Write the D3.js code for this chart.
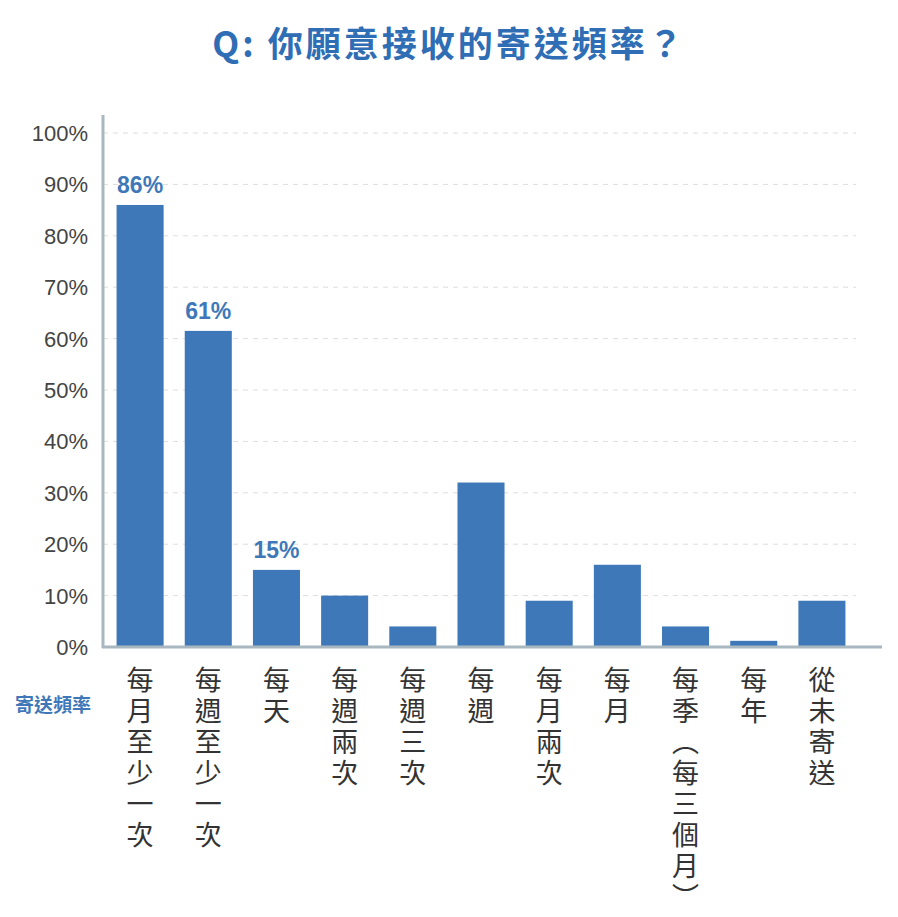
<!DOCTYPE html>
<html><head><meta charset="utf-8">
<script src="https://cdn.jsdelivr.net/npm/d3@7"></script>
<style>body{margin:0;background:#fff}svg{font-family:"Noto Sans CJK TC","Noto Sans",sans-serif}</style>
</head><body><svg id="c" width="898" height="917"></svg>
<script>
const categories=["每月至少一次","每週至少一次","每天","每週兩次","每週三次","每週","每月兩次","每月","每季（每三個月）","每年","從未寄送"];
const values=[86,61.5,15,10,4,32,9,16,4,1.2,9];
const valueLabels=["86%","61%","15%","","","","","","","",""];
const yTicks=[0,10,20,30,40,50,60,70,80,90,100];
const svg=d3.select("#c");
const blue="#3f78b8";
const x=d3.scaleBand().domain(categories).range([106,856]).paddingInner(0.31).paddingOuter(0.155);
const y=d3.scaleLinear().domain([0,100]).range([647,133]);
svg.append("text").attr("x",449).attr("y",57).attr("text-anchor","middle").attr("fill","#2f6db5").attr("font-size",35).attr("font-weight","bold").attr("letter-spacing","3px").text("Q: 你願意接收的寄送頻率？");
svg.selectAll(".g").data(yTicks.slice(1)).join("line").attr("x1",103).attr("x2",856).attr("y1",d=>y(d)).attr("y2",d=>y(d)).attr("stroke","#ddd").attr("stroke-dasharray","5,5");
svg.selectAll(".t").data(yTicks).join("text").attr("x",88).attr("y",d=>y(d)+8).attr("text-anchor","end").attr("font-size",22).attr("fill","#444").attr("font-family","Liberation Sans, Arial").text(d=>d+"%");
svg.selectAll(".b").data(values).join("rect").attr("x",(d,i)=>x(categories[i])).attr("width",x.bandwidth()).attr("y",d=>y(d)).attr("height",d=>647-y(d)).attr("fill",blue);
svg.selectAll(".v").data(values).join("text").attr("x",(d,i)=>x(categories[i])+x.bandwidth()/2).attr("y",d=>y(d)-12).attr("text-anchor","middle").attr("fill",blue).attr("font-size",23).attr("font-weight","bold").attr("font-family","Liberation Sans, Arial").text((d,i)=>valueLabels[i]);
svg.append("line").attr("x1",103).attr("x2",103).attr("y1",115).attr("y2",648).attr("stroke","#a9b7c0").attr("stroke-width",3);
svg.append("line").attr("x1",102).attr("x2",882).attr("y1",647).attr("y2",647).attr("stroke","#a9b7c0").attr("stroke-width",3);
svg.selectAll(".c").data(categories).join("text").attr("x",d=>x(d)+x.bandwidth()/2).attr("y",666).attr("style","writing-mode:vertical-rl;letter-spacing:4px").attr("font-size",27).attr("fill","#333").text(d=>d);
svg.append("text").attr("x",15).attr("y",712).attr("fill",blue).attr("font-size",19).attr("font-weight","bold").text("寄送頻率");
</script></body></html>
